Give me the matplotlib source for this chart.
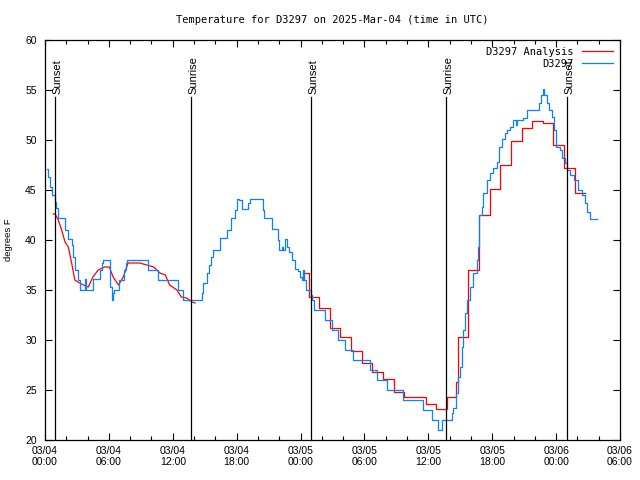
import numpy as np
import matplotlib
matplotlib.use("Agg")
import matplotlib.pyplot as plt
from matplotlib.ticker import MultipleLocator

# ---------------- data (hours since 03/04 00:00 UTC, degrees F) ----------------
blue_t = [0.16, 0.3, 0.5, 0.7, 0.94, 1.03, 1.25, 1.88, 2.19, 2.5, 2.66, 2.82, 3.13, 3.29,
          3.76, 3.85, 4.54, 5.16, 5.32, 5.48, 6.1, 6.26, 6.35, 6.48, 6.98, 7.42, 7.61, 7.73,
          9.7, 10.64, 12.52, 12.93, 14.71, 14.87, 15.18, 15.4, 15.6, 15.8, 16.4, 17.05, 17.5,
          17.8, 18.06, 18.25, 18.47, 19.09, 19.25, 20.44, 20.56, 21.28, 21.91, 22.0, 22.22,
          22.38, 22.57, 22.76, 22.94, 23.16, 23.47, 23.79, 23.94, 24.1, 24.19, 24.32, 24.51,
          24.94, 25.04, 25.26, 26.29, 26.92, 27.54, 28.17, 28.89, 30.52, 31.14, 32.15, 33.59,
          35.53, 36.31, 36.93, 37.25, 38.19, 38.34, 38.59, 38.81, 38.97, 39.12, 39.28, 39.44,
          39.66, 39.91, 40.22, 40.54, 40.69, 40.79, 41.0, 41.16, 41.48, 41.79, 42.1, 42.41,
          42.63, 42.88, 43.19, 43.41, 43.66, 43.97, 44.22, 44.3, 44.85, 45.23, 46.42, 46.58,
          46.73, 46.89, 47.11, 47.33, 47.58, 47.8, 47.99, 48.36, 48.52, 48.83, 48.99, 49.3,
          49.68, 50.08, 50.39, 50.71, 50.93, 51.18, 51.87]
blue_v = [47.1, 46.3, 45.3, 44.5, 43.8, 43.2, 42.2, 41.0, 40.1, 39.5, 38.3, 37.0, 36.0, 35.0,
          36.1, 35.0, 36.1, 37.0, 37.7, 38.0, 35.3, 34.0, 34.7, 35.0, 36.0, 37.0, 37.7, 38.0,
          37.0, 36.0, 35.0, 34.0, 34.7, 35.7, 36.7, 37.5, 38.3, 39.0, 40.2, 41.0, 42.2,
          43.0, 44.1, 44.0, 43.1, 43.7, 44.1, 43.0, 42.2, 41.1, 40.0, 39.0, 39.3,
          39.0, 40.1, 39.3, 38.8, 38.0, 37.1, 36.9, 36.3, 36.0, 37.0, 36.0, 35.0,
          34.5, 34.0, 33.0, 32.0, 31.0, 30.0, 29.0, 28.0, 27.0, 26.0, 25.0, 24.0,
          23.0, 22.0, 21.0, 22.0, 22.7, 23.2, 24.7, 26.3, 27.3, 29.3, 31.0, 32.7,
          34.0, 35.3, 36.7, 38.0, 39.3, 42.5, 43.3, 44.7, 46.0, 46.7, 47.2, 47.8,
          49.3, 50.1, 50.7, 51.0, 51.3, 52.0, 51.5, 52.0, 52.2, 53.0, 53.7, 54.5,
          55.1, 54.5, 53.7, 53.0, 52.3, 51.0, 49.3, 49.0, 48.2, 47.7, 47.0, 46.5,
          46.0, 45.0, 44.5, 43.7, 42.8, 42.1, 42.1]

red1_t = [0.78, 0.95, 1.25, 1.56, 1.88, 2.19, 2.5, 2.8, 3.1, 3.6, 4.07, 4.5, 5.0, 5.6, 6.04,
          6.4, 6.9, 7.35, 7.8, 8.3, 8.9, 9.55, 10.2, 10.8, 11.3, 11.7, 12.4, 12.8, 13.3, 13.8, 14.1]
red1_v = [42.6, 42.6, 42.0, 41.0, 39.8, 39.3, 37.7, 36.0, 35.8, 35.5, 35.3, 36.3, 37.0, 37.3, 37.3,
          36.3, 35.5, 36.3, 37.7, 37.7, 37.7, 37.5, 37.3, 36.7, 36.5, 35.5, 35.0, 34.3, 34.2, 33.8, 33.7]

red2_t = [24.2, 24.75, 25.75, 26.75, 27.75, 28.75, 29.75, 30.75, 31.75, 32.75, 33.75, 34.75,
          35.75, 36.75, 37.75, 38.6, 38.75, 39.75, 40.75, 41.75, 42.75, 43.75, 44.75, 45.75,
          46.75, 47.75, 48.75, 49.75, 50.75]
red2_v = [36.7, 34.3, 33.2, 31.2, 30.3, 28.9, 27.7, 26.8, 26.1, 24.8, 24.3, 24.3,
          23.6, 23.1, 24.3, 25.8, 30.3, 37.0, 42.5, 45.1, 47.5, 49.9, 51.2, 51.9,
          51.7, 49.5, 47.2, 44.7, 44.7]

sun_t = [0.94, 13.71, 24.98, 37.66, 49.02]
sun_labels = ["Sunset", "Sunrise", "Sunset", "Sunrise", "Sunset"]

xtick_labels = ["03/04\n00:00", "03/04\n06:00", "03/04\n12:00", "03/04\n18:00",
                "03/05\n00:00", "03/05\n06:00", "03/05\n12:00", "03/05\n18:00",
                "03/06\n00:00", "03/06\n06:00"]

# ---------------- plot ----------------
plt.rcParams['font.family'] = ['DejaVu Sans Mono']
plt.rcParams['font.size'] = 7.5
SANS = ['Liberation Sans', 'DejaVu Sans']

fig = plt.figure(figsize=(6.4, 4.8), dpi=100)
ax = fig.add_axes([45/640, 40/480, 575/640, 400/480])

RED = '#ff0000'
BLUE = '#0a82ff'

ax.plot(red1_t, red1_v, color=RED, lw=0.9, label='D3297 Analysis')
ax.plot(red2_t, red2_v, color=RED, lw=0.9, drawstyle='steps-post')
ax.plot(blue_t, blue_v, color=BLUE, lw=0.9, drawstyle='steps-post', label='D3297')

for t, lab in zip(sun_t, sun_labels):
    ax.plot([t, t], [20, 54.3], color='black', lw=0.9)
    ax.text(t + 0.2, 54.6, lab, rotation=90, ha='center', va='bottom', fontsize=8,
            family=SANS)

ax.set_xlim(0, 54)
ax.set_ylim(20, 60)
ax.set_xticks(np.arange(0, 55, 6))
ax.set_xticklabels(xtick_labels)
ax.xaxis.set_minor_locator(MultipleLocator(2))
ax.yaxis.set_major_locator(MultipleLocator(5))
ax.tick_params(which='both', direction='in', top=True, right=True)
ax.tick_params(which='major', length=5, width=0.8, pad=4)
ax.tick_params(which='minor', length=3, width=0.8)
for lbl in ax.get_xticklabels() + ax.get_yticklabels():
    lbl.set_family(SANS)
    lbl.set_fontsize(7.5)
ax.tick_params(axis='y', pad=6)
for s in ax.spines.values():
    s.set_linewidth(0.9)

ax.set_ylabel('degrees F', labelpad=9, family=SANS, fontsize=6.8)
ax.set_title('Temperature for D3297 on 2025-Mar-04 (time in UTC)', fontsize=7.5, pad=12)

leg = ax.legend(loc='upper right', frameon=False, markerfirst=False, handlelength=3.0,
                borderaxespad=0.25, labelspacing=0.2, handletextpad=0.8)

fig.savefig('out.png', dpi=100)
